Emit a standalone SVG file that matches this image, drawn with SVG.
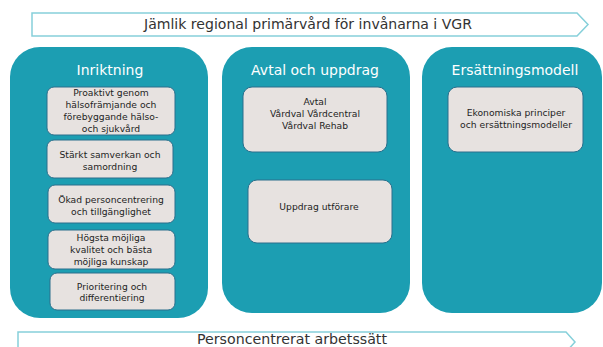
<svg xmlns="http://www.w3.org/2000/svg" width="603" height="347" viewBox="0 0 603 347">
<style>
.banner{fill:#fff;stroke:#86d0da;stroke-width:1.5}
.panel{fill:#1c9eb2}
.box{fill:#e7e2e0;stroke:#2a6f8c;stroke-width:1}
.title{font-family:"DejaVu Sans",Verdana,sans-serif;font-size:14px;fill:#fff;text-anchor:middle}
.t{font-family:"DejaVu Sans",Verdana,sans-serif;font-size:9.2px;fill:#1e1e1e;text-anchor:middle}
.bt{font-family:"DejaVu Sans",Verdana,sans-serif;font-size:13.5px;fill:#333;text-anchor:middle}
</style>
<rect width="603" height="347" fill="#fff"/>
<g id="banner-top">
<path class="banner" d="M32,13 H577 L588,24.5 L577,36 H32 Z"/>
<text class="bt" x="308" y="29" textLength="328" lengthAdjust="spacingAndGlyphs">Jämlik regional primärvård för invånarna i VGR</text>
</g>
<g id="panel-inriktning">
<rect class="panel" x="10" y="47" width="198" height="271" rx="30"/>
<text class="title" x="110" y="75">Inriktning</text>
</g>
<g id="box-proaktivt">
<rect class="box" x="47" y="87" width="128" height="48" rx="7"/>
<text class="t" x="111" y="96">Proaktivt genom</text>
<text class="t" x="111" y="108">hälsofrämjande och</text>
<text class="t" x="111" y="120">förebyggande hälso-</text>
<text class="t" x="111" y="132">och sjukvård</text>
</g>
<g id="box-samverkan">
<rect class="box" x="47" y="140" width="126" height="38" rx="7"/>
<text class="t" x="110" y="158">Stärkt samverkan och</text>
<text class="t" x="110" y="170">samordning</text>
</g>
<g id="box-personcentrering">
<rect class="box" x="48" y="185" width="127" height="38" rx="7"/>
<text class="t" x="111" y="203">Ökad personcentrering</text>
<text class="t" x="111" y="215">och tillgänglighet</text>
</g>
<g id="box-kvalitet">
<rect class="box" x="48" y="230" width="127" height="39" rx="7"/>
<text class="t" x="111" y="241">Högsta möjliga</text>
<text class="t" x="111" y="253">kvalitet och bästa</text>
<text class="t" x="111" y="265">möjliga kunskap</text>
</g>
<g id="box-prioritering">
<rect class="box" x="50" y="273" width="125" height="37" rx="7"/>
<text class="t" x="112" y="290">Prioritering och</text>
<text class="t" x="112" y="301">differentiering</text>
</g>
<g id="panel-avtal">
<rect class="panel" x="222" y="47" width="188" height="266" rx="30"/>
<text class="title" x="315" y="75">Avtal och uppdrag</text>
</g>
<g id="box-avtal">
<rect class="box" x="243" y="87" width="144" height="65" rx="9"/>
<text class="t" x="315" y="105">Avtal</text>
<text class="t" x="315" y="117">Vårdval Vårdcentral</text>
<text class="t" x="315" y="129">Vårdval Rehab</text>
</g>
<g id="box-uppdrag">
<rect class="box" x="248" y="180" width="144" height="63" rx="9"/>
<text class="t" x="319" y="210">Uppdrag utförare</text>
</g>
<g id="panel-ersattning">
<rect class="panel" x="422" y="47" width="180" height="266" rx="30"/>
<text class="title" x="515" y="75">Ersättningsmodell</text>
</g>
<g id="box-ekonomi">
<rect class="box" x="448" y="87" width="135" height="65" rx="9"/>
<text class="t" x="516" y="116">Ekonomiska principer</text>
<text class="t" x="516" y="128">och ersättningsmodeller</text>
</g>
<g id="banner-bottom">
<path class="banner" d="M18,332 H566 L575,342 L566,352 H18 Z"/>
<text class="bt" x="292" y="344" textLength="190" lengthAdjust="spacingAndGlyphs" style="font-size:14.5px">Personcentrerat arbetssätt</text>
</g>
<g id="connectors"/>
</svg>
